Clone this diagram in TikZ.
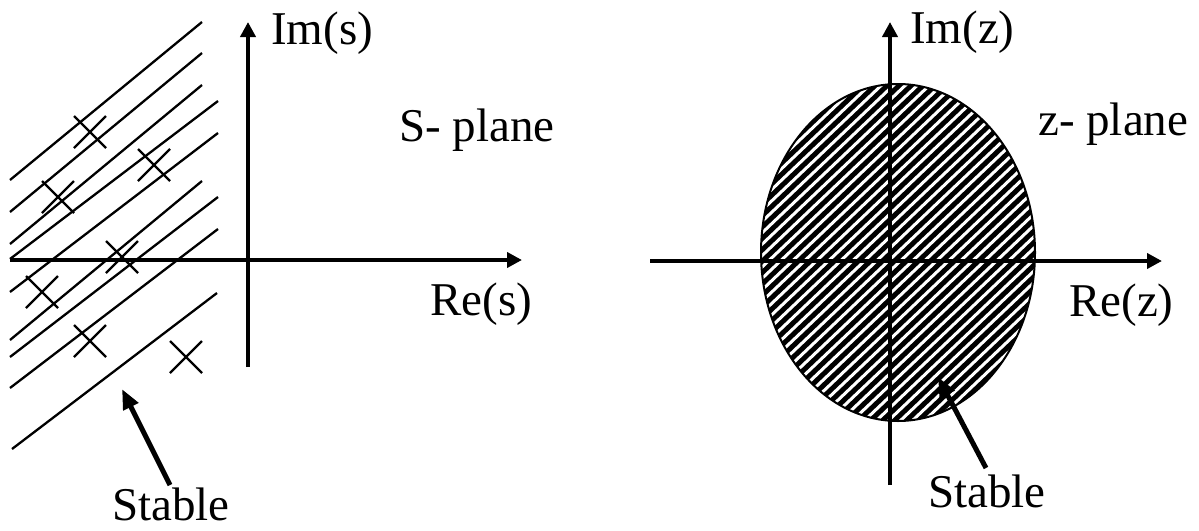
\documentclass[tikz,border=0pt]{standalone}
\usepackage{fontspec}
\setmainfont{Liberation Serif}
\usetikzlibrary{arrows.meta}
\begin{document}
\begin{tikzpicture}[x=1pt,y=-1pt,
  axis/.style={line width=4.5pt,-{Triangle[length=15pt,width=15pt]}},
  hatchline/.style={line width=2.3pt},
  pole/.style={line width=2.3pt},
  pointer/.style={line width=5pt,-{Triangle[length=20pt,width=16pt]}},
  lbl/.style={inner sep=0pt,anchor=base west,font=\fontsize{47}{56}\selectfont}]
\useasboundingbox (0,0) rectangle (1199,530);
% ---------- S-plane ----------
\foreach \a/\b/\c/\d in {10/180/202/22, 10/212/202/53, 10/244/202/85, 10/259/218/101,
  10/292/218/133, 10/340/202/181, 10/357/218/197, 10/388/218/229, 12/449/217/293}
  \draw[hatchline] (\a,\b) -- (\c,\d);
\foreach \x/\y in {90/132, 154/165, 58/197, 122/257, 42/292, 90/341, 186/357}
  \draw[pole] (\x-16,\y-16) -- (\x+16,\y+16) (\x-16,\y+16) -- (\x+16,\y-16);
\coordinate (sxl) at (10,260);
\coordinate (sxr) at (522,260);
\coordinate (syb) at (248,367);
\coordinate (syt) at (248,22);
\draw[axis] (sxl) -- (sxr);
\draw[axis] (syb) -- (syt);
\node[lbl] (ims) at (271,44) {Im(s)};
\node[lbl] (splane) at (399,141) {S- plane};
\node[lbl] (res) at (430,315) {Re(s)};
\node[lbl] (stableS) at (112,520) {Stable};
\coordinate (sptail) at (170,485);
\coordinate (sptip) at (122,389);
\draw[pointer] (sptail) -- (sptip);
% ---------- z-plane ----------
\begin{scope}
  \clip (898,252.5) ellipse [x radius=137, y radius=168.5];
  \fill[black] (740,60) rectangle (1060,440);
  \foreach \i in {0,...,55}
    \draw[white,line width=3pt] (400+\i*12,440) -- ++(400,-380);
\end{scope}
\draw[line width=2pt] (898,252.5) ellipse [x radius=137, y radius=168.5];
\coordinate (zxl) at (650,261);
\coordinate (zxr) at (1162,261);
\coordinate (zyb) at (890,485);
\coordinate (zyt) at (890,22);
\draw[axis] (zxl) -- (zxr);
\draw[axis] (zyb) -- (zyt);
\node[lbl] (imz) at (910,43) {Im(z)};
\node[lbl] (zplane) at (1038,135) {z- plane};
\node[lbl] (rez) at (1069,316) {Re(z)};
\node[lbl] (stableZ) at (928,507) {Stable};
\coordinate (zptail) at (986,468);
\coordinate (zptip) at (938,377);
\draw[pointer] (zptail) -- (zptip);
\end{tikzpicture}
\end{document}
